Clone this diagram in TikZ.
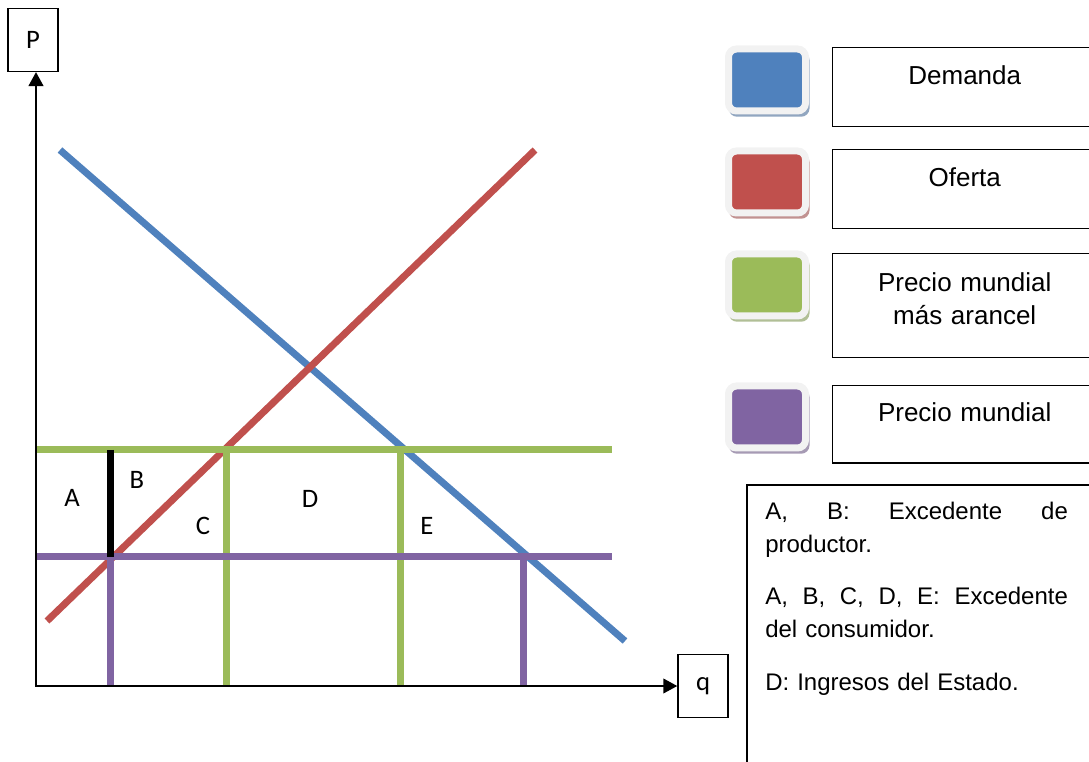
\documentclass[tikz,border=0pt]{standalone}
\usepackage{fontspec}
\setmainfont{Liberation Sans}
\newfontfamily\calibri{Carlito}
\usetikzlibrary{arrows.meta, positioning, shadows}

\definecolor{azul}{HTML}{4F81BD}
\definecolor{rojo}{HTML}{C0504D}
\definecolor{verde}{HTML}{9BBB59}
\definecolor{morado}{HTML}{8064A2}
\definecolor{marco}{HTML}{F2F2F2}

\begin{document}
\begin{tikzpicture}[
    x=0.75pt, y=-0.75pt,
    curva/.style={line width=5.25pt},
    eje/.style={line width=1.5pt, {Triangle[length=10.5pt, width=11pt]}-{Triangle[length=10.5pt, width=11pt]}},
    caja/.style={draw, line width=1.1pt},
    ejebox/.style={caja, minimum width=37.5pt, minimum height=47pt, inner sep=0pt, font=\calibri\fontsize{20}{24}\selectfont},
    zona/.style={font=\calibri\fontsize{20}{24}\selectfont},
    clave/.style={draw=marco, line width=5.25pt, fill=#1, rounded corners=6pt, minimum width=57.75pt, minimum height=46.5pt,
      drop shadow={shadow scale=1.05, shadow xshift=1.5pt, shadow yshift=-3pt, fill=#1!60!gray!70!white, opacity=1}},
    leyenda/.style={caja, anchor=north west, text width=190pt, inner xsep=4pt, inner ysep=0pt, align=center,
      font=\fontsize{19.5}{24.5}\selectfont},
    nota/.style={anchor=north west, text width=227pt, inner xsep=13.5pt, inner ysep=13pt, align=left,
      font=\fontsize{18}{24.75}\selectfont},
  ]
    \useasboundingbox (0,0) rectangle (1089,762);

    % Curves
    \draw[curva, azul] (60,150) -- (625,641);
    \draw[curva, rojo] (47,621) -- (535,150);

    % Price lines
    \draw[curva, verde] (226,450) -- (226,686);
    \draw[curva, verde] (400,450) -- (400,686);
    \draw[curva, morado] (110,557) -- (110,686);
    \draw[curva, morado] (523,557) -- (523,686);
    \draw[curva, verde] (37,450) -- (612,450);
    \draw[curva, morado] (37,557) -- (612,557);
    \draw[curva, black] (110,450) -- (110,557);

    % Axes
    \coordinate (O) at (36,686);
    \node[ejebox] (P) at (33,40) {P};
    \node[ejebox] (q) at (703,686) {q};
    \draw[eje] (O |- P.south) -- (O) -- (q.west);

    % Areas
    \node[zona] (A) at (72,498) {A};
    \node[zona] (B) at (137,480) {B};
    \node[zona] (C) at (203,526) {C};
    \node[zona] (D) at (310,499) {D};
    \node[zona] (E) at (427,526) {E};

    % Legend
    \node[clave=azul] (kdem) at (767,80) {};
    \node[leyenda, text height=27.5pt, text depth=31.5pt] (dem) at (832,47) {Demanda};
    \node[clave=rojo] (kofe) at (767,182) {};
    \node[leyenda, text height=27.5pt, text depth=31.5pt] (ofe) at (832,149) {Oferta};
    \node[clave=verde] (kara) at (767,285) {};
    \node[leyenda, text height=28.5pt, text depth=49.5pt] (ara) at (832,253) {Precio mundial\\más arancel};
    \node[clave=morado] (kmun) at (767,417) {};
    \node[leyenda, text height=27pt, text depth=31pt] (mun) at (832,385) {Precio mundial};

    % Notes
    \node[nota] (nota) at (747,485) {A,\hfill B:\hfill Excedente\hfill de\\
      productor.\\[14pt]
      A,\hfill B,\hfill C,\hfill D,\hfill E:\hfill Excedente\\
      del consumidor.\\[15pt]
      D: Ingresos del Estado.};
    \draw[caja] (nota.north west |- 0,770) -- (nota.north west) -- (nota.north west -| 1100,0);
\end{tikzpicture}
\end{document}
